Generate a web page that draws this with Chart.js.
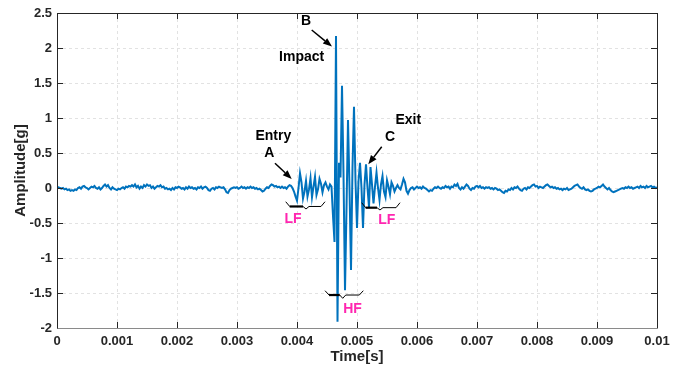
<!DOCTYPE html>
<html>
<head>
<meta charset="utf-8">
<script src="https://cdn.jsdelivr.net/npm/chart.js@4"></script>
<style>
  body { margin: 0; background: #fff; }
</style>
</head>
<body>
<canvas id="myChart" width="686" height="372"></canvas>
<script>
// accelerometer trace, one sample every 25 us
const dt = 0.000025

const quietBefore = [
  0.02, 0.01, 0.0, -0.01, 0.0, -0.02, -0.01, -0.03, -0.02, -0.04,
  -0.03, -0.04, -0.02, -0.03, 0.0, 0.01, -0.01, 0.02, 0.03, 0.01,
  0.0, -0.02, 0.0, 0.02, 0.01, 0.03, 0.0, -0.01, 0.01, -0.02,
  0.0, 0.03, 0.05, 0.02, 0.04, 0.0, -0.02, 0.01, -0.01, -0.02,
  -0.03, -0.01, -0.02, 0.0, 0.01, -0.01, 0.02, 0.01, 0.03, 0.02,
  0.04, 0.02, 0.05, 0.01, 0.03, -0.01, 0.02, 0.0, 0.04, 0.02,
  0.05, 0.03, 0.04, 0.0, 0.02, -0.01, 0.01, 0.03, 0.02, 0.04,
  0.01, 0.02, -0.01, 0.0, -0.02, -0.01, -0.03, 0.0, -0.02, 0.01,
  0.0, 0.02, 0.01, -0.01, 0.0, -0.02, 0.01, -0.01, 0.02, 0.0,
  0.01, -0.01, 0.0, -0.02, 0.01, 0.0, 0.02, -0.01, 0.01, 0.02,
  0.0, -0.03, -0.04, -0.01, 0.0, -0.02, 0.01, 0.0, 0.02, 0.01,
  0.0, 0.01, -0.02, -0.06, -0.07, -0.03, -0.01, 0.0, 0.01, 0.0,
  0.01, -0.01, 0.0, 0.02, 0.0, 0.01, -0.01, 0.01, 0.0, 0.02,
  0.0, 0.01, -0.01, 0.0, -0.02, -0.01, -0.03, -0.05, -0.04, -0.01,
  0.01, 0.0, 0.03, 0.05, 0.04, 0.02, 0.03, 0.01, 0.02, 0.0,
  0.02, 0.0, 0.01, -0.01
]

// low frequency ripple when the wheel enters
const entryBurst = [
  0.02, 0.04, 0.03, 0.0, -0.05, -0.12, -0.18, 0.0, 0.21, 0.08,
  -0.15, -0.05, 0.1, -0.12, -0.02, 0.14, -0.13, 0.02, 0.16, -0.1,
  -0.02, 0.13, 0.06, -0.06, 0.04, 0.08, 0.02, -0.02
]

// high frequency part around the impact
const impactBurst = [
  0.05, 0.02, -0.4, -0.77, 2.17, -1.91, 0.36, 0.15, 1.46, 0.2,
  -1.46, -0.3, 0.97, 0.0, -1.17, 0.3, 1.16, 0.1, -0.57, 0.1
]

// decaying ripple on exit
const exitBurst = [
  0.36, 0.0, -0.57, 0.05, 0.34, 0.0, -0.27, 0.3, 0.05, -0.22,
  0.02, 0.22, 0.0, -0.17, 0.05, 0.17, -0.05, -0.13, 0.11, 0.02,
  -0.09, 0.08, 0.03, -0.05, 0.0, 0.04, 0.0, -0.02, 0.05, 0.13,
  0.08, -0.04, -0.08, -0.03, 0.0
]

const quietAfter = [
  0.01, -0.02, 0.0, 0.02, 0.0, 0.01, -0.01, 0.02, 0.0, -0.01,
  -0.03, -0.05, -0.03, -0.04, -0.01, 0.01, 0.0, 0.02, 0.0, -0.01,
  0.01, 0.0, 0.03, 0.01, 0.02, -0.01, 0.02, 0.01, 0.05, 0.03,
  0.06, 0.0, -0.02, 0.01, -0.01, 0.02, 0.05, 0.03, -0.01, -0.03,
  0.0, -0.01, 0.02, 0.03, 0.01, 0.03, 0.0, 0.01, -0.01, 0.01,
  0.0, 0.01, -0.01, 0.0, -0.02, 0.0, -0.01, -0.03, -0.02, -0.04,
  -0.06, -0.07, -0.04, -0.05, -0.02, -0.03, 0.0, -0.02, 0.01, 0.0,
  0.02, -0.01, -0.03, -0.04, -0.01, 0.0, -0.02, 0.01, 0.0, 0.02,
  0.04, 0.05, 0.02, 0.03, 0.0, 0.02, 0.01, 0.0, 0.02, 0.04,
  0.05, 0.03, 0.01, 0.02, 0.0, 0.01, -0.01, 0.0, -0.02, -0.01,
  -0.03, -0.01, -0.02, 0.0, -0.03, -0.02, -0.01, 0.01, 0.03, 0.04,
  0.05, 0.02, 0.0, -0.01, 0.01, -0.02, -0.03, -0.02, -0.04, -0.05,
  -0.04, -0.02, -0.01, 0.0, 0.02, 0.01, 0.03, 0.05, 0.02, 0.0,
  -0.02, 0.0, -0.03, -0.05, -0.06, -0.05, -0.04, -0.03, -0.02, -0.01,
  0.0, -0.01, 0.01, 0.0, 0.02, 0.0, 0.01, -0.01, 0.0, 0.01,
  0.02, 0.0, 0.03, 0.01, 0.02, 0.0, 0.03, 0.01, 0.02, 0.03,
  0.01, 0.02, 0.0, 0.01
]

const xTicks = [0, 0.001, 0.002, 0.003, 0.004, 0.005, 0.006, 0.007, 0.008, 0.009, 0.01]
const xTickLabels = ['0', '0.001', '0.002', '0.003', '0.004', '0.005', '0.006', '0.007', '0.008', '0.009', '0.01']
const yTicks = [-2, -1.5, -1, -0.5, 0, 0.5, 1, 1.5, 2, 2.5]
const yTickLabels = ['-2', '-1.5', '-1', '-0.5', '0', '0.5', '1', '1.5', '2', '2.5']

const amplitude = quietBefore.concat(entryBurst, impactBurst, exitBurst, quietAfter)
const points = amplitude.map((a, i) => ({ x: i * dt, y: a }))

// labels, arrows and braces, placed in time / amplitude units
const notes = [
  { text: 'B', t: 0.00415, a: 2.386 },
  { text: 'Impact', t: 0.004078, a: 1.867 },
  { text: 'Entry', t: 0.003605, a: 0.747 },
  { text: 'A', t: 0.003538, a: 0.504 },
  { text: 'Exit', t: 0.005855, a: 0.971 },
  { text: 'C', t: 0.00555, a: 0.724 },
  { text: 'LF', t: 0.003933, a: -0.443, pink: true },
  { text: 'LF', t: 0.005495, a: -0.457, pink: true },
  { text: 'HF', t: 0.004925, a: -1.729, pink: true }
]
const arrows = [
  { t0: 0.004245, a0: 2.257, t1: 0.004583, a1: 2.021 },
  { t0: 0.003633, a0: 0.353, t1: 0.003912, a1: 0.129 },
  { t0: 0.005412, a0: 0.59, t1: 0.005188, a1: 0.339 }
]
const braces = [
  { t0: 0.003812, t1: 0.004467, tm: 0.00415, top: -0.196, line: -0.264, notch: -0.3 },
  { t0: 0.005078, t1: 0.005717, tm: 0.005383, top: -0.21, line: -0.281, notch: -0.314 },
  { t0: 0.004467, t1: 0.005105, tm: 0.004762, top: -1.467, line: -1.529, notch: -1.576 }
]

const FONT = '"Liberation Sans", Arial, sans-serif'
const AXIS_COLOR = '#262626'

const axesBox = {
  id: 'axesBox',
  afterDraw(chart) {
    const { ctx, chartArea: ca, scales } = chart
    ctx.save()
    ctx.lineWidth = 1
    // inward tick marks on all four sides
    ctx.strokeStyle = AXIS_COLOR
    ctx.beginPath()
    xTicks.forEach(v => {
      const x = Math.round(scales.x.getPixelForValue(v)) + 0.5
      ctx.moveTo(x, ca.bottom); ctx.lineTo(x, ca.bottom - 6)
      ctx.moveTo(x, ca.top); ctx.lineTo(x, ca.top + 6)
    })
    yTicks.forEach(v => {
      const y = Math.round(scales.y.getPixelForValue(v)) + 0.5
      ctx.moveTo(ca.left, y); ctx.lineTo(ca.left + 6, y)
      ctx.moveTo(ca.right, y); ctx.lineTo(ca.right - 6, y)
    })
    ctx.stroke()
    // box
    const l = Math.round(ca.left) + 0.5, r = Math.round(ca.right) + 0.5
    const t = Math.round(ca.top) + 0.5, b = Math.round(ca.bottom) + 0.5
    ctx.beginPath()
    ctx.moveTo(l, b); ctx.lineTo(l, t); ctx.lineTo(r, t); ctx.lineTo(r, b)
    ctx.stroke()
    ctx.strokeStyle = '#8a8a8a'
    ctx.beginPath()
    ctx.moveTo(l, b); ctx.lineTo(r, b)
    ctx.stroke()
    ctx.restore()
  }
}

const marks = {
  id: 'marks',
  afterDatasetsDraw(chart) {
    const { ctx, scales } = chart
    const px = t => scales.x.getPixelForValue(t)
    const py = a => scales.y.getPixelForValue(a)
    ctx.save()

    notes.forEach(n => {
      ctx.font = 'bold 14px ' + FONT
      ctx.fillStyle = n.pink ? '#ff26b0' : '#000'
      ctx.textAlign = 'center'
      ctx.textBaseline = 'middle'
      ctx.fillText(n.text, px(n.t), py(n.a))
    })

    ctx.strokeStyle = '#000'
    ctx.fillStyle = '#000'
    arrows.forEach(ar => {
      const x0 = px(ar.t0), y0 = py(ar.a0), x1 = px(ar.t1), y1 = py(ar.a1)
      const ang = Math.atan2(y1 - y0, x1 - x0)
      const len = 9, half = 3.5
      const bx = x1 - len * Math.cos(ang), by = y1 - len * Math.sin(ang)
      ctx.lineWidth = 1.5
      ctx.beginPath()
      ctx.moveTo(x0, y0); ctx.lineTo(bx, by)
      ctx.stroke()
      ctx.beginPath()
      ctx.moveTo(x1, y1)
      ctx.lineTo(bx + half * Math.sin(ang), by - half * Math.cos(ang))
      ctx.lineTo(bx - half * Math.sin(ang), by + half * Math.cos(ang))
      ctx.closePath()
      ctx.fill()
    })

    braces.forEach(br => {
      const x0 = px(br.t0), x1 = px(br.t1), xm = px(br.tm)
      const yt = py(br.top), yl = py(br.line), yn = py(br.notch)
      // left half drawn heavier
      ctx.lineWidth = 2.2
      ctx.beginPath()
      ctx.moveTo(x0 + 4, yl); ctx.lineTo(xm - 3, yl)
      ctx.stroke()
      ctx.lineWidth = 1
      ctx.beginPath()
      ctx.moveTo(x0, yt); ctx.lineTo(x0 + 4, yl); ctx.lineTo(xm - 3, yl)
      ctx.lineTo(xm, yn); ctx.lineTo(xm + 3, yl); ctx.lineTo(x1 - 4, yl)
      ctx.lineTo(x1, yt)
      ctx.stroke()
    })
    ctx.restore()
  }
}

const ctx = document.getElementById('myChart')

new Chart(ctx, {
  type: 'line',
  data: {
    datasets: [{
      data: points,
      borderColor: '#0072bd',
      borderWidth: 2,
      pointRadius: 0,
      tension: 0,
      fill: false
    }]
  },
  options: {
    responsive: false,
    animation: false,
    events: [],
    layout: { padding: { left: 0, right: 29, top: 13, bottom: 0 } },
    plugins: {
      legend: { display: false },
      tooltip: { enabled: false }
    },
    scales: {
      x: {
        type: 'linear',
        min: 0,
        max: 0.01,
        afterBuildTicks: s => { s.ticks = xTicks.map(v => ({ value: v })) },
        afterFit: s => { s.height = 44 },
        grid: { color: '#e2e2e2', lineWidth: 1, drawTicks: false },
        border: { display: false, dash: [3, 3] },
        ticks: {
          padding: 6,
          color: AXIS_COLOR,
          font: { family: FONT, size: 13, weight: 'bold' },
          maxRotation: 0,
          autoSkip: false,
          callback: (v, i) => xTickLabels[i]
        },
        title: {
          display: true,
          text: 'Time[s]',
          color: AXIS_COLOR,
          font: { family: FONT, size: 15, weight: 'bold' },
          padding: { top: 0, bottom: 6 }
        }
      },
      y: {
        min: -2,
        max: 2.5,
        afterBuildTicks: s => { s.ticks = yTicks.map(v => ({ value: v })) },
        afterFit: s => { s.width = 57 },
        grid: { color: '#e2e2e2', lineWidth: 1, drawTicks: false },
        border: { display: false, dash: [3, 3] },
        ticks: {
          padding: 5,
          color: AXIS_COLOR,
          font: { family: FONT, size: 13, weight: 'bold' },
          autoSkip: false,
          callback: (v, i) => yTickLabels[i]
        },
        title: {
          display: true,
          text: 'Amplitude[g]',
          color: AXIS_COLOR,
          font: { family: FONT, size: 15, weight: 'bold' },
          padding: { top: 12, bottom: 0 }
        }
      }
    }
  },
  plugins: [axesBox, marks]
})
</script>
</body>
</html>
